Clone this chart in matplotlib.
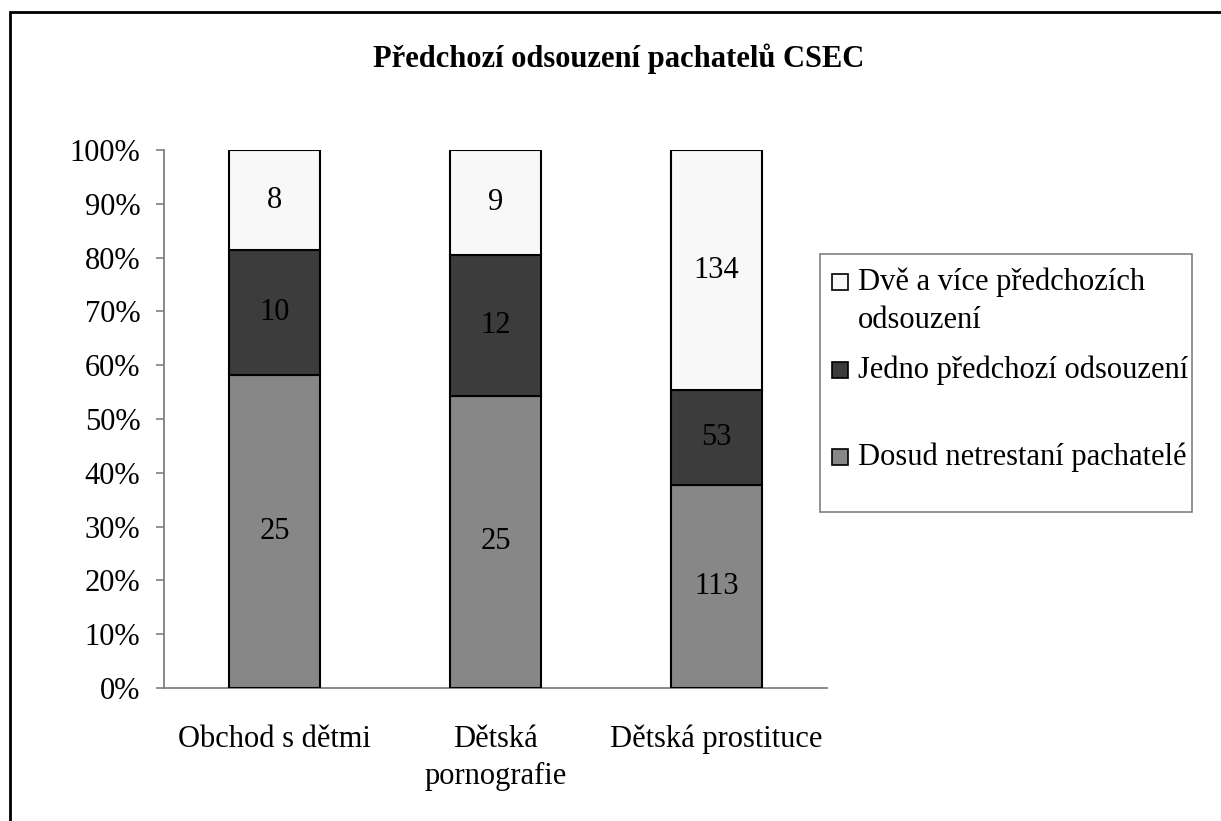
import matplotlib
matplotlib.use("Agg")
import matplotlib.pyplot as plt
from matplotlib.patches import Rectangle
import numpy as np

plt.rcParams['font.family'] = ['Liberation Serif', 'DejaVu Serif']

# ---- data ----
categories = ["Obchod s dětmi", "Dětská\npornografie", "Dětská prostituce"]
series_names = ["Dosud netrestaní pachatelé", "Jedno předchozí odsouzení",
                "Dvě a více předchozích\nodsouzení"]
first_time = [25, 25, 113]
one_prior = [10, 12, 53]
two_plus = [8, 9, 134]
series_colors = ["#878787", "#3c3c3c", "#f8f8f8"]
ytick_labels = ["0%", "10%", "20%", "30%", "40%", "50%", "60%", "70%", "80%", "90%", "100%"]
title = "Předchozí odsouzení pachatelů CSEC"

W, H = 1221, 821
fig = plt.figure(figsize=(W / 100, H / 100), dpi=100)

def fx(x):
    return x / W

def fy(y):
    return 1 - y / H

ax = fig.add_axes([fx(164), fy(688), fx(827) - fx(164), fy(150) - fy(688)])

series = [first_time, one_prior, two_plus]
totals = np.sum(np.array(series, dtype=float), axis=0)
x = np.arange(len(categories))
bottom = np.zeros(len(categories))
FS = 22
for vals, col in zip(series, series_colors):
    pct = np.array(vals) / totals * 100
    ax.bar(x, pct, bottom=bottom, width=0.41, color=col,
           edgecolor="black", linewidth=1.5, zorder=3)
    for xi, b, p, v in zip(x, bottom, pct, vals):
        ax.text(xi, b + p / 2, str(v), ha="center", va="center",
                fontsize=FS, color="black", zorder=4)
    bottom += pct

ax.set_xlim(-0.5, len(categories) - 0.5)
ax.set_ylim(0, 100)
ax.set_yticks(np.arange(0, 101, 10))
ax.set_yticklabels(ytick_labels, fontsize=FS)
ax.set_xticks(x)
ax.set_xticklabels(categories, fontsize=FS, linespacing=1.38)
ax.tick_params(axis="x", length=0, pad=26.5)
ax.tick_params(axis="y", length=6, width=1.2, color="#808080", pad=11)
for s in ["top", "right"]:
    ax.spines[s].set_visible(False)
for s in ["left", "bottom"]:
    ax.spines[s].set_color("#808080")
    ax.spines[s].set_linewidth(1.3)
ax.set_facecolor("none")

# title
fig.text(fx(619), fy(59), title, ha="center", va="center",
         fontsize=FS, fontweight="bold")

# legend (manual, Excel-like spacing)
fig.add_artist(Rectangle((fx(820), fy(512)), fx(1192) - fx(820), fy(254) - fy(512),
                         transform=fig.transFigure, facecolor="white",
                         edgecolor="#808080", linewidth=1.2))
legend_rows = [(2, 282), (1, 370), (0, 457)]
sq = 16
for idx, yc in legend_rows:
    fig.add_artist(Rectangle((fx(832), fy(yc + sq / 2)), sq / W, sq / H,
                             transform=fig.transFigure, facecolor=series_colors[idx],
                             edgecolor="black", linewidth=1.2))
    lines = series_names[idx].split("\n")
    for k, ln in enumerate(lines):
        fig.text(fx(858), fy(yc + k * 39), ln, ha="left", va="center", fontsize=FS)

# outer chart frame
fig.add_artist(Rectangle((fx(10), fy(H + 20)), fx(W + 20) - fx(10), fy(12) - fy(H + 20),
                         transform=fig.transFigure, facecolor="none",
                         edgecolor="black", linewidth=2.0))

fig.savefig("out.png", dpi=100)
